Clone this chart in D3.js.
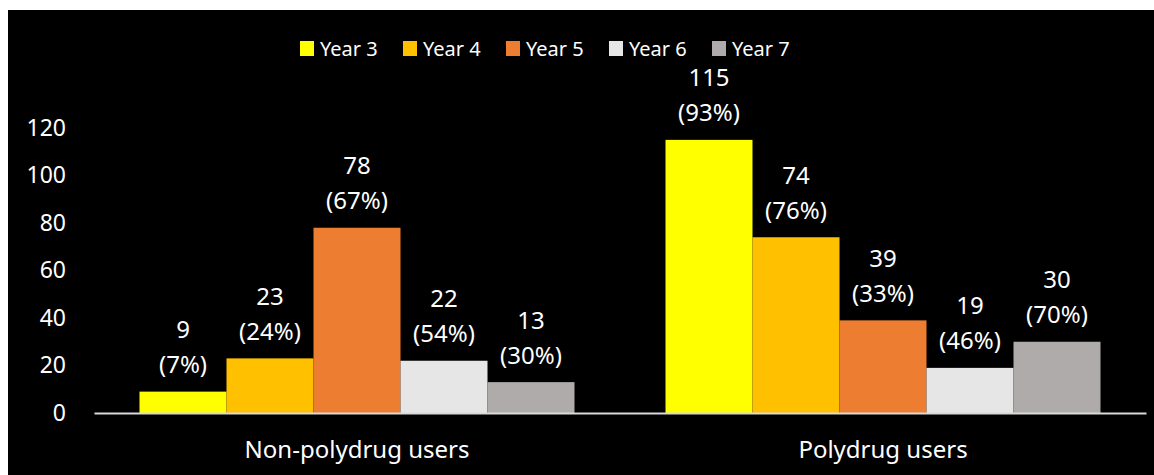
<!DOCTYPE html>
<html>
<head>
<meta charset="utf-8">
<script src="https://cdn.jsdelivr.net/npm/d3@7"></script>
<style>
  body { margin: 0; background: #fff; }
  svg text { font-family: "Noto Sans", "Open Sans", sans-serif; fill: #fff; }
</style>
</head>
<body>
<svg id="chart"></svg>
<script>
var width = 1154
var height = 475

var categories = ["Non-polydrug users", "Polydrug users"]
var years = ["Year 3", "Year 4", "Year 5", "Year 6", "Year 7"]
var colors = ["#FFFF00", "#FFC000", "#ED7D31", "#E7E6E6", "#AFABAB"]
// counts per year for each category
var nonPolyValues = [9, 23, 78, 22, 13]
var polyValues = [115, 74, 39, 19, 30]
var nonPolyPct = ["7%", "24%", "67%", "54%", "30%"]
var polyPct = ["93%", "76%", "33%", "46%", "70%"]
var yTicks = [0, 20, 40, 60, 80, 100, 120]

var values = [nonPolyValues, polyValues]
var pcts = [nonPolyPct, polyPct]

var bars = []
categories.forEach((c, ci) => {
  years.forEach((y, yi) => {
    bars.push({cat: c, year: y, value: values[ci][yi], pct: pcts[ci][yi], color: colors[yi]})
  })
})

var svg = d3.select("#chart")
  .attr("width", width)
  .attr("height", height)

// black panel
svg.append("rect")
  .attr("x", 8)
  .attr("y", 10)
  .attr("width", width - 8)
  .attr("height", height - 10)
  .attr("fill", "#000")

var yScale = d3.scaleLinear()
  .domain([0, 140])
  .range([413, 80.5])

var xScale = d3.scaleBand()
  .domain(categories)
  .range([94, 1146])

var xSeries = d3.scaleBand()
  .domain(years)
  .range([0, xScale.bandwidth()])
  .paddingInner(0)
  .paddingOuter(0.523)

// y axis labels
var yAxis = d3.axisLeft(yScale)
  .tickValues(yTicks)
  .tickSize(0)
  .tickPadding(28)

svg.append("g")
  .attr("transform", "translate(94,0)")
  .call(yAxis)
  .call(g => g.select(".domain").remove())
  .selectAll("text")
    .style("font-size", "23px")
    .attr("fill", "#fff")

// bars
svg.append("g")
  .selectAll("rect")
  .data(bars)
  .enter()
    .append("rect")
    .attr("x", d => xScale(d.cat) + xSeries(d.year))
    .attr("y", d => yScale(d.value))
    .attr("width", xSeries.bandwidth())
    .attr("height", d => yScale(0) - yScale(d.value))
    .attr("fill", d => d.color)

// data labels
var labels = svg.append("g")
  .selectAll("g")
  .data(bars)
  .enter()
    .append("g")
    .attr("transform", d => "translate(" + (xScale(d.cat) + xSeries(d.year) + xSeries.bandwidth() / 2) + "," + yScale(d.value) + ")")

labels.append("text")
  .attr("text-anchor", "middle")
  .attr("y", -62)
  .attr("dy", "0.35em")
  .style("font-size", "24px")
  .text(d => d.value)

labels.append("text")
  .attr("text-anchor", "middle")
  .attr("y", -27)
  .attr("dy", "0.35em")
  .style("font-size", "24px")
  .text(d => "(" + d.pct + ")")

// x axis
var xAxis = d3.axisBottom(xScale)
  .tickSize(0)
  .tickPadding(28)

svg.append("g")
  .attr("transform", "translate(0,413)")
  .call(xAxis)
  .call(g => g.select(".domain").attr("stroke", "#D9D9D9").attr("stroke-width", 2))
  .selectAll("text")
    .style("font-size", "24px")
    .attr("fill", "#fff")

// legend
var legend = svg.append("g")
  .selectAll("g")
  .data(years)
  .enter()
    .append("g")
    .attr("transform", (d, i) => "translate(" + (300 + i * 103) + ",41)")

legend.append("rect")
  .attr("width", 14)
  .attr("height", 15)
  .attr("fill", (d, i) => colors[i])

legend.append("text")
  .attr("x", 20)
  .attr("y", 7.5)
  .attr("dy", "0.35em")
  .style("font-size", "20px")
  .text(d => d)
</script>
</body>
</html>
